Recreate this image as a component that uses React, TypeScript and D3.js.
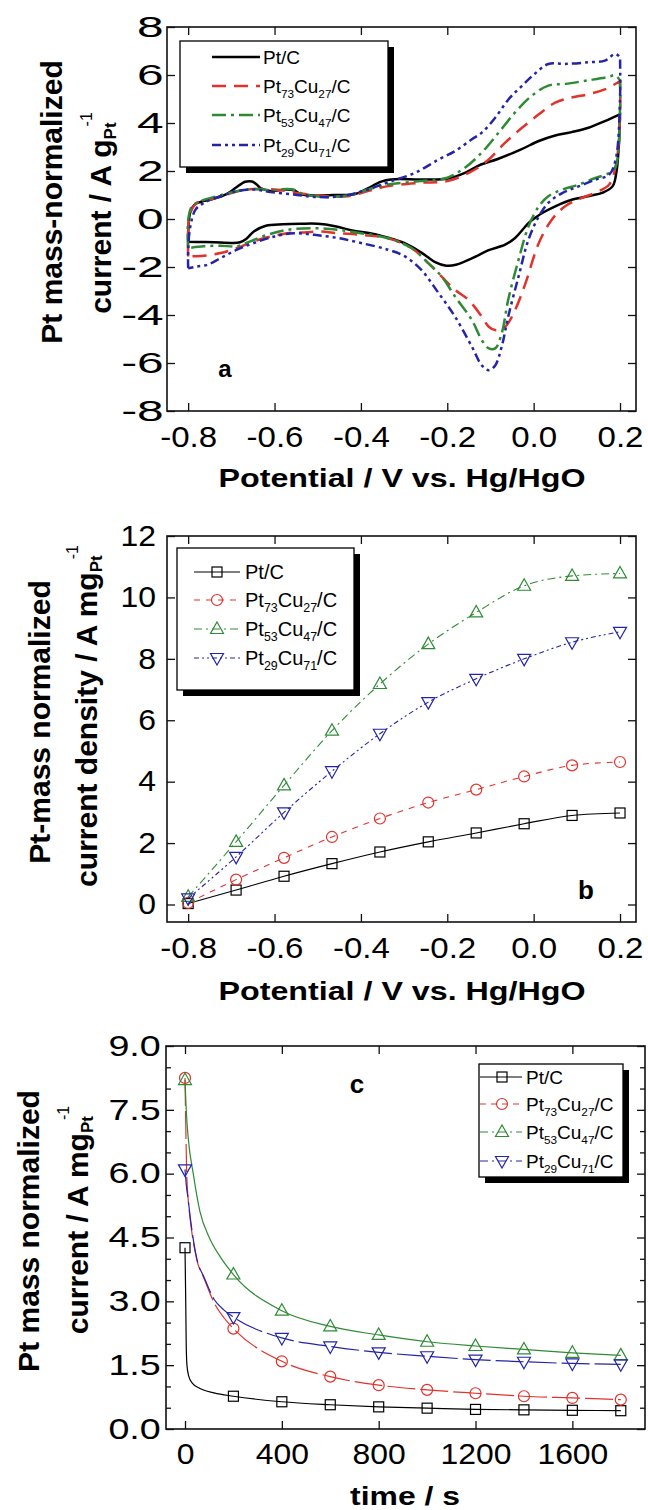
import React, { useEffect, useRef } from "react";
import * as d3 from "d3";

const FONT = "'Liberation Sans', Arial, Helvetica, sans-serif";
const RED = "#e2322c";
const GREEN = "#2e8b34";
const BLUE = "#2424a8";
const COLORS = ["#000000", RED, GREEN, BLUE];

// legend text: even index = normal, odd index = subscript
const legendParts = [
  ["Pt/C"],
  ["Pt", "73", "Cu", "27", "/C"],
  ["Pt", "53", "Cu", "47", "/C"],
  ["Pt", "29", "Cu", "71", "/C"],
];

// ---- panel a: cyclic voltammograms [E (V), i (A/g)] ----
const cvPtC_up = [
  [-0.8, -0.95], [-0.8, -0.6], [-0.795, 0.3], [-0.785, 0.6], [-0.77, 0.72], [-0.745, 0.82], [-0.71, 1.05],
  [-0.69, 1.3], [-0.668, 1.55], [-0.652, 1.56], [-0.642, 1.45], [-0.632, 1.28], [-0.61, 1.17], [-0.575, 1.23],
  [-0.555, 1.2], [-0.54, 1.04], [-0.508, 0.98], [-0.462, 1.0], [-0.415, 1.03], [-0.384, 1.28], [-0.353, 1.56],
  [-0.33, 1.65], [-0.26, 1.65], [-0.2, 1.68], [-0.159, 1.92], [-0.122, 2.27], [-0.083, 2.5], [-0.029, 2.9],
  [0.012, 3.25], [0.05, 3.48], [0.088, 3.62], [0.127, 3.8], [0.165, 4.08], [0.192, 4.3], [0.2, 4.36],
];
const cvPtC_down = [
  [0.2, 4.36], [0.197, 3.0], [0.192, 2.0], [0.183, 1.37], [0.16, 1.1], [0.129, 0.96], [0.09, 0.81], [0.05, 0.53],
  [0.02, 0.25], [0.003, 0.04], [-0.012, -0.17], [-0.043, -0.79], [-0.066, -1.07], [-0.104, -1.3], [-0.142, -1.63],
  [-0.18, -1.91], [-0.205, -1.94], [-0.228, -1.8], [-0.26, -1.4], [-0.3, -1.0], [-0.337, -0.78], [-0.376, -0.6],
  [-0.42, -0.48], [-0.46, -0.3], [-0.5, -0.2], [-0.54, -0.2], [-0.58, -0.22], [-0.62, -0.28], [-0.648, -0.52],
  [-0.665, -0.82], [-0.68, -0.97], [-0.7, -1.0], [-0.74, -0.97], [-0.77, -0.96], [-0.8, -0.95],
];
const cvPt73_up = [
  [-0.8, -1.56], [-0.8, -0.5], [-0.795, 0.25], [-0.78, 0.67], [-0.75, 0.81], [-0.71, 1.02], [-0.67, 1.22],
  [-0.632, 1.25], [-0.593, 1.22], [-0.547, 1.08], [-0.493, 0.97], [-0.43, 0.95], [-0.384, 1.16], [-0.337, 1.37],
  [-0.26, 1.51], [-0.2, 1.58], [-0.142, 2.0], [-0.104, 2.48], [-0.066, 3.18], [-0.027, 3.8], [0.012, 4.36],
  [0.05, 4.85], [0.088, 5.06], [0.127, 5.2], [0.165, 5.4], [0.2, 5.75],
];
const cvPt73_down = [
  [0.2, 5.75], [0.2, 4.2], [0.19, 2.2], [0.175, 1.44], [0.143, 1.1], [0.112, 0.88], [0.073, 0.53], [0.042, -0.03],
  [0.012, -1.0], [-0.019, -2.68], [-0.043, -3.79], [-0.066, -4.49], [-0.089, -4.63], [-0.104, -4.49],
  [-0.12, -4.07], [-0.151, -3.37], [-0.182, -2.95], [-0.213, -2.4], [-0.244, -1.84], [-0.283, -1.21],
  [-0.337, -0.8], [-0.4, -0.66], [-0.454, -0.59], [-0.493, -0.52], [-0.531, -0.56], [-0.57, -0.59],
  [-0.609, -0.73], [-0.648, -0.93], [-0.687, -1.21], [-0.725, -1.42], [-0.764, -1.53], [-0.8, -1.56],
];
const cvPt53_up = [
  [-0.8, -1.21], [-0.8, -0.03], [-0.791, 0.53], [-0.772, 0.74], [-0.733, 0.95], [-0.687, 1.16], [-0.648, 1.25],
  [-0.609, 1.2], [-0.57, 1.25], [-0.555, 1.22], [-0.54, 1.08], [-0.493, 0.93], [-0.43, 0.98], [-0.384, 1.23],
  [-0.337, 1.44], [-0.26, 1.58], [-0.2, 1.72], [-0.159, 2.14], [-0.12, 2.77], [-0.081, 3.6], [-0.043, 4.44],
  [-0.004, 5.14], [0.034, 5.56], [0.073, 5.63], [0.127, 5.78], [0.173, 5.92], [0.189, 5.99], [0.2, 5.77],
];
const cvPt53_down = [
  [0.2, 5.77], [0.2, 4.6], [0.19, 2.2], [0.175, 1.92], [0.143, 1.71], [0.104, 1.43], [0.066, 1.22],
  [0.034, 0.95], [0.012, 0.53], [-0.012, -0.31], [-0.035, -1.7], [-0.059, -3.37], [-0.074, -4.77],
  [-0.089, -5.39], [-0.104, -5.39], [-0.12, -5.05], [-0.143, -4.21], [-0.182, -3.23], [-0.213, -2.4],
  [-0.244, -1.84], [-0.283, -1.21], [-0.337, -0.8], [-0.4, -0.59], [-0.454, -0.45], [-0.508, -0.38],
  [-0.57, -0.45], [-0.617, -0.66], [-0.656, -0.93], [-0.687, -1.14], [-0.725, -1.11], [-0.764, -1.14], [-0.8, -1.21],
];
const cvPt29_up = [
  [-0.8, -2.05], [-0.8, -1.28], [-0.795, -0.31], [-0.783, 0.39], [-0.764, 0.67], [-0.725, 0.95], [-0.687, 1.16],
  [-0.648, 1.23], [-0.609, 1.12], [-0.555, 1.02], [-0.508, 0.92], [-0.446, 0.95], [-0.384, 1.23], [-0.337, 1.53],
  [-0.275, 1.92], [-0.22, 2.48], [-0.182, 2.83], [-0.143, 3.32], [-0.12, 3.6], [-0.089, 4.22], [-0.058, 4.99],
  [-0.027, 5.55], [0.002, 6.04], [0.034, 6.46], [0.073, 6.46], [0.127, 6.53], [0.165, 6.6], [0.189, 6.88], [0.2, 6.74],
];
const cvPt29_down = [
  [0.2, 6.74], [0.2, 5.0], [0.19, 2.48], [0.175, 1.85], [0.143, 1.64], [0.104, 1.36], [0.066, 1.08],
  [0.034, 0.67], [0.012, 0.11], [-0.012, -0.86], [-0.035, -2.4], [-0.059, -4.07], [-0.074, -5.32],
  [-0.089, -6.1], [-0.104, -6.3], [-0.12, -6.1], [-0.143, -5.32], [-0.182, -4.07], [-0.22, -3.09],
  [-0.26, -2.12], [-0.298, -1.56], [-0.337, -1.28], [-0.4, -1.0], [-0.454, -0.79], [-0.508, -0.66],
  [-0.555, -0.59], [-0.6, -0.73], [-0.648, -1.0], [-0.687, -1.28], [-0.725, -1.63], [-0.756, -1.91],
  [-0.78, -1.98], [-0.8, -2.05],
];

// ---- panel b: current density vs potential ----
const bPotential = [-0.8, -0.689, -0.578, -0.467, -0.356, -0.244, -0.133, -0.022, 0.089, 0.2];
const bPtC = [0.03, 0.47, 0.92, 1.33, 1.71, 2.04, 2.33, 2.63, 2.9, 2.98];
const bPt73 = [0.05, 0.81, 1.52, 2.2, 2.8, 3.32, 3.74, 4.17, 4.53, 4.64];
const bPt53 = [0.25, 2.04, 3.88, 5.66, 7.18, 8.48, 9.51, 10.38, 10.7, 10.78];
const bPt29 = [0.2, 1.55, 3.0, 4.34, 5.56, 6.59, 7.35, 8.0, 8.54, 8.88];

// ---- panel c: chronoamperometry ----
const cTime = [0, 200, 400, 600, 800, 1000, 1200, 1400, 1600, 1800];
const cPtC = [4.26, 0.77, 0.64, 0.57, 0.52, 0.49, 0.46, 0.45, 0.44, 0.43];
const cPt73 = [8.25, 2.36, 1.59, 1.23, 1.03, 0.92, 0.84, 0.77, 0.73, 0.69];
const cPt53 = [8.2, 3.63, 2.78, 2.41, 2.21, 2.05, 1.95, 1.87, 1.79, 1.73];
const cPt29 = [6.1, 2.63, 2.14, 1.94, 1.8, 1.71, 1.63, 1.58, 1.54, 1.52];
// first 200 s of each trace (fast decay), [t, i]
const cPtC_early = [[0, 4.26], [3, 3.0], [5, 2.0], [8, 1.5], [15, 1.25], [30, 1.08], [60, 0.96], [120, 0.85]];
const cPt73_early = [[0, 8.25], [3, 7.2], [7, 6.0], [13, 5.4], [20, 5.0], [48, 4.0], [80, 3.52], [120, 2.97], [160, 2.62]];
const cPt53_early = [[0, 8.2], [5, 7.5], [14, 6.8], [34, 6.0], [62, 5.1], [100, 4.5], [145, 4.05]];
const cPt29_early = [[0, 6.1], [6, 5.7], [13, 5.4], [20, 5.05], [48, 4.02], [80, 3.55], [120, 3.05], [160, 2.8]];

const MARKERS = ["square", "circle", "up", "down"];

function marker(g: any, type: string, cx: number, cy: number, color: string) {
  if (type === "square") {
    g.append("rect").attr("x", cx - 5).attr("y", cy - 5).attr("width", 10).attr("height", 10)
      .attr("fill", "none").attr("stroke", color).attr("stroke-width", 1.2);
  } else if (type === "circle") {
    g.append("circle").attr("cx", cx).attr("cy", cy).attr("r", 5.5)
      .attr("fill", "none").attr("stroke", color).attr("stroke-width", 1.2);
  } else {
    const s = type === "up" ? 1 : -1;
    const pts = [[cx, cy - 7 * s], [cx + 6.5, cy + 4.5 * s], [cx - 6.5, cy + 4.5 * s]];
    g.append("polygon").attr("points", pts.map((p) => p.join(",")).join(" "))
      .attr("fill", "none").attr("stroke", color).attr("stroke-width", 1.2);
  }
}

function drawAxes(svg: any, x: any, y: any, o: any) {
  const [x0, x1] = x.range();
  const [yb, yt] = y.range();
  const fix = (g: any, size: number) => {
    g.attr("font-family", FONT).attr("font-size", size);
    g.select(".domain").remove();
    g.selectAll("line").attr("stroke", "#111").attr("stroke-width", 1.3);
  };
  const bottom = svg.append("g").attr("transform", `translate(0,${yb})`)
    .call(d3.axisBottom(x).tickValues(o.xTicks).tickSizeInner(-8).tickSizeOuter(0).tickPadding(o.xPad).tickFormat(o.xFmt));
  fix(bottom, 29);
  bottom.selectAll("text").attr("transform", `scale(${o.xStretch},1)`);
  const top = svg.append("g").attr("transform", `translate(0,${yt})`)
    .call(d3.axisTop(x).tickValues(o.xTicks).tickSizeInner(-8).tickSizeOuter(0).tickFormat(() => ""));
  fix(top, 10);
  const left = svg.append("g").attr("transform", `translate(${x0},0)`)
    .call(d3.axisLeft(y).tickValues(o.yTicks).tickSizeInner(-8).tickSizeOuter(0).tickPadding(o.yPad).tickFormat(o.yFmt));
  fix(left, 29);
  left.selectAll("text").attr("transform", `scale(${o.yStretch},1)`);
  const right = svg.append("g").attr("transform", `translate(${x1},0)`)
    .call(d3.axisRight(y).tickValues(o.yTicks).tickSizeInner(-8).tickSizeOuter(0).tickFormat(() => ""));
  fix(right, 10);
  if (o.yMinor) {
    [[d3.axisLeft, x0], [d3.axisRight, x1]].forEach(([ax, px]: any) => {
      const m = svg.append("g").attr("transform", `translate(${px},0)`)
        .call(ax(y).tickValues(o.yMinor).tickSizeInner(-5).tickSizeOuter(0).tickFormat(() => ""));
      fix(m, 10);
    });
  }
  svg.append("rect").attr("x", x0).attr("y", yt).attr("width", x1 - x0).attr("height", yb - yt)
    .attr("fill", "none").attr("stroke", "#111").attr("stroke-width", 1.6);
}

function richText(t: any, parts: string[], subSize: number, subDy: number) {
  parts.forEach((p, i) => {
    const sp = t.append("tspan").text(p);
    if (i % 2 === 1) sp.attr("font-size", subSize).attr("dy", subDy);
    else if (i > 0) sp.attr("dy", -subDy);
  });
}

function yTitle(svg: any, bx: number[], cy: number[], lines: string[], unit: string) {
  svg.append("text").attr("transform", `translate(${bx[0]},${cy[0]}) rotate(-90)`)
    .attr("text-anchor", "middle").attr("font-family", FONT).attr("font-weight", "bold").attr("font-size", 30)
    .text(lines[0]);
  const t2 = svg.append("text").attr("transform", `translate(${bx[1]},${cy[1]}) rotate(-90)`)
    .attr("text-anchor", "middle").attr("font-family", FONT).attr("font-weight", "bold").attr("font-size", 30);
  t2.append("tspan").text(lines[1]);
  t2.append("tspan").attr("font-size", 17).attr("dy", 5).text(unit);
  t2.append("tspan").attr("font-size", 16).attr("font-weight", "normal").attr("dx", -4).attr("dy", -24).text("-1");
}

function xTitle(svg: any, cx: number, by: number, label: string, size: number, len: number) {
  svg.append("text").attr("x", cx).attr("y", by).attr("text-anchor", "middle").attr("font-family", FONT)
    .attr("font-weight", "bold").attr("font-size", size).attr("textLength", len).attr("lengthAdjust", "spacingAndGlyphs")
    .text(label);
}

function legend(svg: any, o: any) {
  svg.append("rect").attr("x", o.x + 6).attr("y", o.y + 6).attr("width", o.w).attr("height", o.h).attr("fill", "#000");
  svg.append("rect").attr("x", o.x).attr("y", o.y).attr("width", o.w).attr("height", o.h)
    .attr("fill", "#fff").attr("stroke", "#000").attr("stroke-width", 1.3);
  o.rows.forEach((ry: number, i: number) => {
    svg.append("line").attr("x1", o.l1).attr("x2", o.l2).attr("y1", ry).attr("y2", ry)
      .attr("stroke", COLORS[i]).attr("stroke-width", o.lw).attr("stroke-dasharray", o.dash[i]);
    if (o.mx) marker(svg, MARKERS[i], o.mx, ry, COLORS[i]);
    const t = svg.append("text").attr("x", o.tx).attr("y", ry + 7).attr("font-family", FONT)
      .attr("font-size", o.fs).attr("fill", "#000");
    richText(t, legendParts[i], o.fs * 0.62, 5);
  });
}

function panelLabel(svg: any, x: number, y: number, s: string, size: number) {
  svg.append("text").attr("x", x).attr("y", y).attr("text-anchor", "middle").attr("font-family", FONT)
    .attr("font-weight", "bold").attr("font-size", size).text(s);
}

const fix1 = (d: number) => d.toFixed(1);
const intf = (d: number) => String(d);

function draw(svgEl: SVGSVGElement) {
  const svg = d3.select(svgEl);
  svg.selectAll("*").remove();

  // ---------------- panel a ----------------
  const xa = d3.scaleLinear().domain([-0.849, 0.237]).range([167, 636]);
  const ya = d3.scaleLinear().domain([-8, 8]).range([411, 27]);
  const lineA = d3.line<any>().x((d) => xa(d[0])).y((d) => ya(d[1])).curve(d3.curveCatmullRom.alpha(0.5));
  const cvSeries = [
    cvPtC_up.concat(cvPtC_down), cvPt73_up.concat(cvPt73_down),
    cvPt53_up.concat(cvPt53_down), cvPt29_up.concat(cvPt29_down),
  ];
  const dashA = ["", "14,8", "14,5,3,5", "9,4,3,4,3,4"];
  cvSeries.forEach((s, i) => {
    svg.append("path").attr("d", lineA(s)).attr("fill", "none").attr("stroke", COLORS[i])
      .attr("stroke-width", 2.5).attr("stroke-dasharray", dashA[i]);
  });
  drawAxes(svg, xa, ya, {
    xTicks: [-0.8, -0.6, -0.4, -0.2, 0, 0.2], yTicks: [-8, -6, -4, -2, 0, 2, 4, 6, 8],
    xFmt: fix1, yFmt: intf, xPad: 15, yPad: 2, yStretch: 1.65, xStretch: 1.14,
  });
  legend(svg, { x: 180, y: 41, w: 208, h: 126, rows: [57, 86, 115, 145], l1: 212, l2: 260, tx: 263, fs: 19, lw: 2.4, dash: dashA });
  panelLabel(svg, 225, 377, "a", 24);
  xTitle(svg, 402, 487, "Potential / V vs. Hg/HgO", 25, 367);
  yTitle(svg, [62, 111], [202, 213], ["Pt mass-normalized", "current / A g"], "Pt");

  // ---------------- panel b ----------------
  const xb = d3.scaleLinear().domain([-0.849, 0.237]).range([167, 636]);
  const yb = d3.scaleLinear().domain([-0.57, 12]).range([922, 536]);
  const lineB = d3.line<any>().x((d) => xb(d[0])).y((d) => yb(d[1])).curve(d3.curveMonotoneX);
  const bSeries = [bPtC, bPt73, bPt53, bPt29];
  const dashB = ["", "6,6", "8,4,2,4", "5,3,2,3,2,3"];
  bSeries.forEach((vals, i) => {
    const pts = bPotential.map((p, k) => [p, vals[k]]);
    svg.append("path").attr("d", lineB(pts)).attr("fill", "none").attr("stroke", COLORS[i])
      .attr("stroke-width", 1.1).attr("stroke-dasharray", dashB[i]);
    pts.forEach((p) => marker(svg, MARKERS[i], xb(p[0]), yb(p[1]), COLORS[i]));
  });
  drawAxes(svg, xb, yb, {
    xTicks: [-0.8, -0.6, -0.4, -0.2, 0, 0.2], yTicks: [0, 2, 4, 6, 8, 10, 12],
    xFmt: fix1, yFmt: intf, xPad: 15, yPad: 10, yStretch: 1.1, xStretch: 1.14,
  });
  legend(svg, { x: 177, y: 548, w: 177, h: 142, rows: [572, 600, 629, 658], l1: 194, l2: 240, mx: 217, tx: 245, fs: 20, lw: 1.1, dash: dashB });
  panelLabel(svg, 586, 899, "b", 26);
  xTitle(svg, 402, 1000, "Potential / V vs. Hg/HgO", 25, 367);
  yTitle(svg, [50, 97], [722, 716], ["Pt-mass normalized", "current density / A mg"], "Pt");

  // ---------------- panel c ----------------
  const xc = d3.scaleLinear().domain([-78.5, 1900]).range([166, 645]);
  const yc = d3.scaleLinear().domain([0, 9]).range([1429, 1046]);
  const lineC = d3.line<any>().x((d) => xc(d[0])).y((d) => yc(d[1])).curve(d3.curveMonotoneX);
  const cSeries = [cPtC, cPt73, cPt53, cPt29];
  const cEarly = [cPtC_early, cPt73_early, cPt53_early, cPt29_early];
  const dashC = ["", "28,5", "", "28,5"];
  cSeries.forEach((vals, i) => {
    const pts = cEarly[i].concat(cTime.slice(1).map((t, k) => [t, vals[k + 1]]));
    svg.append("path").attr("d", lineC(pts)).attr("fill", "none").attr("stroke", COLORS[i])
      .attr("stroke-width", 1.2).attr("stroke-dasharray", dashC[i]);
  });
  cSeries.forEach((vals, i) => {
    cTime.forEach((t, k) => marker(svg, MARKERS[i], xc(t), yc(vals[k]), COLORS[i]));
  });
  drawAxes(svg, xc, yc, {
    xTicks: [0, 400, 800, 1200, 1600], yTicks: [0, 1.5, 3, 4.5, 6, 7.5, 9],
    yMinor: [0.5, 1, 2, 2.5, 3.5, 4, 5, 5.5, 6.5, 7, 8, 8.5],
    xFmt: intf, yFmt: fix1, xPad: 14, yPad: 4, yStretch: 1.3, xStretch: 1.1,
  });
  legend(svg, { x: 479, y: 1064, w: 144, h: 113, rows: [1077, 1104, 1132, 1161], l1: 480, l2: 522, mx: 502, tx: 526, fs: 19, lw: 1.2, dash: ["", "6,5", "8,4,2,4", "8,4,2,4"] });
  panelLabel(svg, 357, 1093, "c", 26);
  xTitle(svg, 405, 1505, "time / s", 25, 110);
  yTitle(svg, [39, 88], [1231, 1220], ["Pt mass normalized", "current / A mg"], "Pt");
}

export default function App() {
  const ref = useRef<SVGSVGElement>(null);
  useEffect(() => {
    if (ref.current) draw(ref.current);
  }, []);
  return (
    <svg ref={ref} width={648} height={1510} viewBox="0 0 648 1510"
      style={{ position: "absolute", left: 0, top: 0, background: "#fff" }} />
  );
}
